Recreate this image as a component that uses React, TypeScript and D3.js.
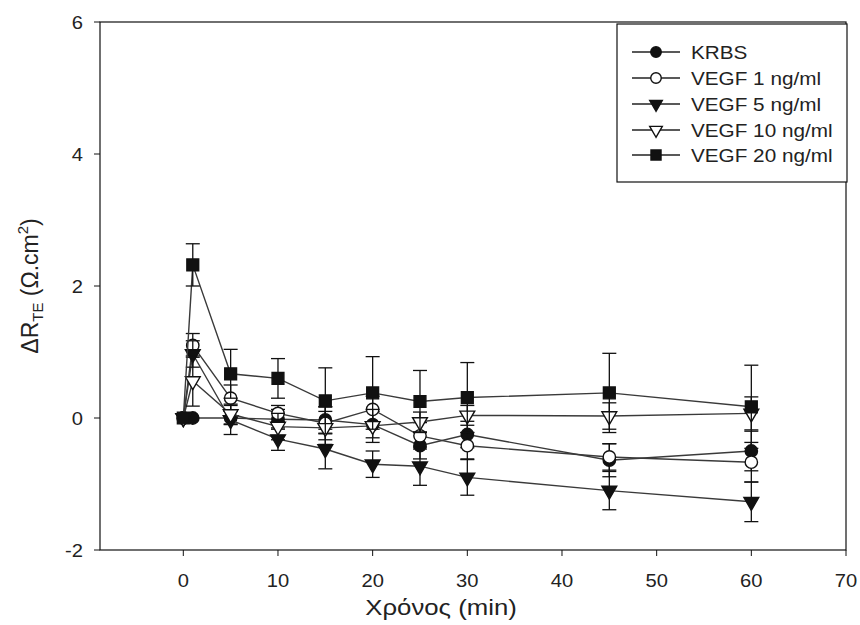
import React from "react";
import * as d3 from "d3";

const times = [0, 1, 5, 10, 15, 20, 25, 30, 45, 60];
const seriesNames = ["KRBS", "VEGF 1 ng/ml", "VEGF 5 ng/ml", "VEGF 10 ng/ml", "VEGF 20 ng/ml"];
const krbs = [0, 0, 0, -0.02, -0.03, -0.1, -0.42, -0.25, -0.64, -0.5];
const vegf1 = [0, 1.1, 0.3, 0.07, -0.08, 0.13, -0.27, -0.42, -0.59, -0.67];
const vegf5 = [0, 0.97, -0.03, -0.32, -0.47, -0.7, -0.73, -0.9, -1.1, -1.27];
const vegf10 = [0, 0.56, 0.06, -0.13, -0.15, -0.12, -0.06, 0.04, 0.03, 0.07];
const vegf20 = [0, 2.32, 0.67, 0.6, 0.26, 0.38, 0.25, 0.31, 0.38, 0.17];
const krbsErr = [0, 0, 0.1, 0.15, 0.2, 0.2, 0.2, 0.2, 0.25, 0.3];
const vegf1Err = [0, 0.18, 0.2, 0.12, 0.25, 0.2, 0.2, 0.2, 0.2, 0.3];
const vegf5Err = [0, 0.2, 0.22, 0.17, 0.3, 0.2, 0.29, 0.27, 0.29, 0.3];
const vegf10Err = [0, 0.38, 0.15, 0.2, 0.25, 0.25, 0.15, 0.15, 0.2, 0.25];
const vegf20Err = [0, 0.32, 0.37, 0.3, 0.5, 0.55, 0.47, 0.53, 0.6, 0.63];
const xTicks = [0, 10, 20, 30, 40, 50, 60, 70];
const yTicks = [-2, 0, 2, 4, 6];

type Shape = "circleFill" | "circleOpen" | "triDownFill" | "triDownOpen" | "squareFill";
const shapes: Shape[] = ["circleFill", "circleOpen", "triDownFill", "triDownOpen", "squareFill"];
const values = [krbs, vegf1, vegf5, vegf10, vegf20];
const errors = [krbsErr, vegf1Err, vegf5Err, vegf10Err, vegf20Err];

const FONT = "'Liberation Sans', Arial, sans-serif";
const SX = 1.12;

function Marker({ shape, x, y, s = 1 }: { shape: Shape; x: number; y: number; s?: number }) {
  const filled = shape.endsWith("Fill");
  const fill = filled ? "#111" : "#fff";
  let type: d3.SymbolType = d3.symbolCircle;
  let size = 120;
  let rot = 0;
  if (shape.startsWith("tri")) {
    type = d3.symbolTriangle;
    size = 95;
    rot = 180;
  } else if (shape.startsWith("square")) {
    type = d3.symbolSquare;
    size = 140;
  }
  const path = d3.symbol().type(type).size(size * s * s)() || "";
  return (
    <path
      d={path}
      transform={`translate(${x},${y}) rotate(${rot})`}
      fill={fill}
      stroke="#111"
      strokeWidth={1.4}
    />
  );
}

function SText({
  x,
  y,
  size,
  anchor = "start",
  children,
}: {
  x: number;
  y: number;
  size: number;
  anchor?: "start" | "middle" | "end";
  children: React.ReactNode;
}) {
  return (
    <g transform={`translate(${x},${y}) scale(${SX},1)`}>
      <text x={0} y={0} textAnchor={anchor} fontFamily={FONT} fontSize={size} fill="#222">
        {children}
      </text>
    </g>
  );
}

export default function App() {
  const W = 860;
  const H = 625;
  const x = d3.scaleLinear().domain([-8.8, 70]).range([100, 846]);
  const y = d3.scaleLinear().domain([-2, 6]).range([550, 22]);
  const line = d3
    .line<number>()
    .x((_, i) => x(times[i]))
    .y((d) => y(d));

  const legendX = 617;
  const legendY = 24;
  const legendRows = [52, 78, 104, 130, 155];

  return (
    <svg width={W} height={H} style={{ position: "absolute", left: 0, top: 0, background: "#fff" }}>
      <rect x={0} y={0} width={W} height={H} fill="#fff" />
      {/* frame */}
      <rect x={100} y={22} width={746} height={528} fill="none" stroke="#111" strokeWidth={1.2} />
      {/* x ticks */}
      {xTicks.map((t) => (
        <g key={"xt" + t}>
          <line x1={x(t)} x2={x(t)} y1={550} y2={556} stroke="#111" strokeWidth={1} />
          <SText x={x(t)} y={587} size={18} anchor="middle">
            {t}
          </SText>
        </g>
      ))}
      {/* y ticks */}
      {yTicks.map((t) => (
        <g key={"yt" + t}>
          <line x1={94} x2={100} y1={y(t)} y2={y(t)} stroke="#111" strokeWidth={1} />
          <SText x={83} y={y(t) + 6.5} size={18} anchor="end">
            {t}
          </SText>
        </g>
      ))}
      {/* axis titles */}
      <SText x={441} y={615} size={23} anchor="middle">
        Χρόνος (min)
      </SText>
      <g transform={`translate(38,286) rotate(-90)`}>
        <text
          x={0}
          y={0}
          textAnchor="middle"
          fontFamily={FONT}
          fontSize={23}
          fill="#222"
        >
          ΔR
          <tspan fontSize={15} dy={5}>TE</tspan>
          <tspan dy={-5}> (Ω.cm</tspan>
          <tspan fontSize={15} dy={-10}>2</tspan>
          <tspan dy={10}>)</tspan>
        </text>
      </g>

      {/* series */}
      {values.map((vals, si) => (
        <g key={"s" + si}>
          <path d={line(vals) || ""} fill="none" stroke="#3a3a3a" strokeWidth={1.4} />
          {vals.map((v, i) => {
            const e = errors[si][i];
            if (!e) return null;
            const cx = x(times[i]);
            return (
              <g key={"e" + i} stroke="#111" strokeWidth={1.3}>
                <line x1={cx} x2={cx} y1={y(v - e)} y2={y(v + e)} />
                <line x1={cx - 7} x2={cx + 7} y1={y(v - e)} y2={y(v - e)} />
                <line x1={cx - 7} x2={cx + 7} y1={y(v + e)} y2={y(v + e)} />
              </g>
            );
          })}
          {vals.map((v, i) => (
            <Marker key={"m" + i} shape={shapes[si]} x={x(times[i])} y={y(v)} />
          ))}
        </g>
      ))}

      {/* legend */}
      <rect x={legendX} y={legendY} width={230} height={158} fill="#fff" stroke="#111" strokeWidth={1.2} />
      {seriesNames.map((name, i) => (
        <g key={"l" + i}>
          <line x1={632} x2={680} y1={legendRows[i]} y2={legendRows[i]} stroke="#222" strokeWidth={1.4} />
          <Marker shape={shapes[i]} x={656} y={legendRows[i]} s={0.85} />
          <SText x={691} y={legendRows[i] + 6.5} size={18.5}>
            {name}
          </SText>
        </g>
      ))}
    </svg>
  );
}
